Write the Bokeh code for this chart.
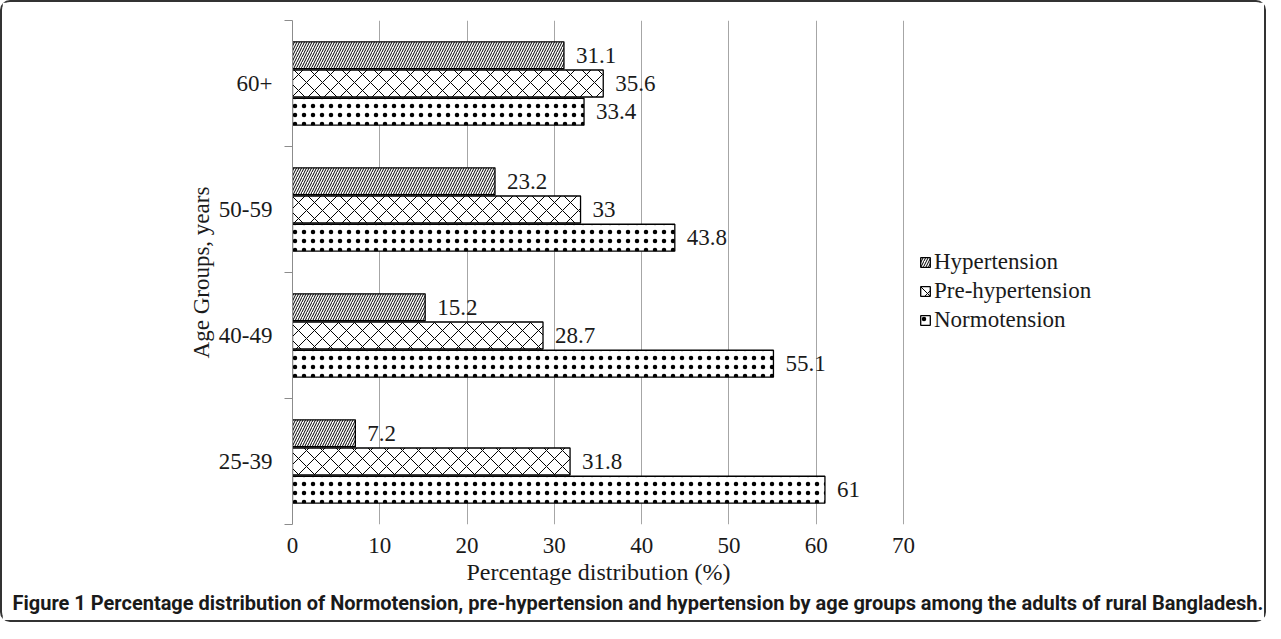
from bokeh.plotting import figure
from bokeh.models import (ColumnDataSource, FixedTicker, Legend, LegendItem, Range1d,
                          LabelSet, Title)
from bokeh.embed import file_html
from bokeh.resources import INLINE

# ---- data ----
age_groups = ["25-39", "40-49", "50-59", "60+"]
normotension = [61, 55.1, 43.8, 33.4]
pre_hypertension = [31.8, 28.7, 33, 35.6]
hypertension = [7.2, 15.2, 23.2, 31.1]
x_ticks = [0, 10, 20, 30, 40, 50, 60, 70]
series_names = ["Hypertension", "Pre-hypertension", "Normotension"]

SERIF = "Liberation Serif"
FS = "23px"

W, H = 1266, 622
LEFT, RIGHT = 290, 4
FRAME_W = W - LEFT - RIGHT
AXIS_PX = 611          # pixels spanned by the 0..70 value axis
x_end = x_ticks[-1] * FRAME_W / AXIS_PX

p = figure(width=W, height=H, output_backend="svg", toolbar_location=None,
           x_range=Range1d(0, x_end), y_range=Range1d(0, len(age_groups)),
           min_border_left=LEFT, min_border_right=RIGHT, min_border_top=18,
           min_border_bottom=100,
           styles={"border": "2px solid #333333", "border-radius": "10px"})
p.outline_line_color = None
p.background_fill_color = "white"

centers = [i + 0.5 for i in range(len(age_groups))]
offsets = {"Hypertension": 0.224, "Pre-hypertension": 0.0, "Normotension": -0.224}
vals = {"Hypertension": hypertension, "Pre-hypertension": pre_hypertension,
        "Normotension": normotension}
hatches = {"Hypertension": ("/", 5.0, 1.0), "Pre-hypertension": ("x", 16.0, 1.0),
           "Normotension": (".", 9.0, 0.4)}

renderers = {}
for name in series_names:
    ys = [c + offsets[name] for c in centers]
    src = ColumnDataSource(dict(y=ys, right=vals[name],
                                lab=[f"{v:g}" for v in vals[name]]))
    pat, sc, hw = hatches[name]
    r = p.hbar(y="y", left=0, right="right", height=0.214, source=src,
               fill_color="white", line_color="black", line_width=1.3,
               hatch_pattern=pat, hatch_scale=sc, hatch_color="black",
               hatch_weight=hw)
    renderers[name] = r
    p.add_layout(LabelSet(x="right", y="y", text="lab", source=src, x_offset=12,
                          text_font=SERIF, text_font_size=FS,
                          text_baseline="middle", text_align="left",
                          text_color="#1a1a1a"))

# grid
p.ygrid.grid_line_color = None
p.xgrid.ticker = FixedTicker(ticks=x_ticks[1:])
p.xgrid.grid_line_color = "#a6a6a6"
p.xgrid.grid_line_width = 1

# x axis
p.xaxis.ticker = FixedTicker(ticks=x_ticks)
p.xaxis.axis_line_color = None
p.xaxis.major_tick_line_color = None
p.xaxis.minor_tick_line_color = None
p.xaxis.major_label_text_font = SERIF
p.xaxis.major_label_text_font_size = FS
p.xaxis.major_label_text_color = "#1a1a1a"
p.xaxis.major_label_standoff = 7

# x axis title (placed under the middle of the 0..70 axis)
XLAB_W = 263
xlab = Title(text="Percentage distribution (%)", text_font=SERIF,
             text_font_size="24px", text_font_style="normal", text_color="#1a1a1a",
             align="left", offset=(AXIS_PX - XLAB_W) / 2, standoff=3)
p.add_layout(xlab, "below")

# y axis
p.yaxis.ticker = FixedTicker(ticks=centers, minor_ticks=list(range(len(age_groups) + 1)))
p.yaxis.major_label_overrides = {c: g for c, g in zip(centers, age_groups)}
p.yaxis.axis_line_color = "#8c8c8c"
p.yaxis.axis_line_width = 1
p.yaxis.major_tick_line_color = None
p.yaxis.minor_tick_line_color = "#8c8c8c"
p.yaxis.minor_tick_out = 8
p.yaxis.minor_tick_in = 0
p.yaxis.major_label_text_font = SERIF
p.yaxis.major_label_text_font_size = FS
p.yaxis.major_label_text_color = "#1a1a1a"
p.yaxis.major_label_standoff = 12
p.yaxis.axis_label = "Age Groups, years"
p.yaxis.axis_label_text_font = SERIF
p.yaxis.axis_label_text_font_size = FS
p.yaxis.axis_label_text_font_style = "normal"
p.yaxis.axis_label_text_color = "#1a1a1a"
p.yaxis.axis_label_standoff = 2

# legend (inside the extended frame, right of the value axis)
legend = Legend(items=[LegendItem(label=n, renderers=[renderers[n]]) for n in series_names],
                location=(AXIS_PX + 16, 191), orientation="vertical",
                label_text_font=SERIF, label_text_font_size=FS,
                label_text_color="#1a1a1a",
                glyph_width=12, glyph_height=12, label_standoff=3,
                label_height=22, spacing=3, padding=0, margin=0,
                border_line_color=None, background_fill_alpha=0)
p.add_layout(legend, "center")

# caption
cap = Title(text="Figure 1 Percentage distribution of Normotension, pre-hypertension and hypertension by age groups among the adults of rural Bangladesh.",
            text_font="Roboto",
            text_font_size="20px", text_font_style="bold", text_color="#1a1a1a",
            align="left", offset=-280, standoff=4)
p.add_layout(cap, "below")

open("out.html", "w").write(file_html(p, INLINE))
